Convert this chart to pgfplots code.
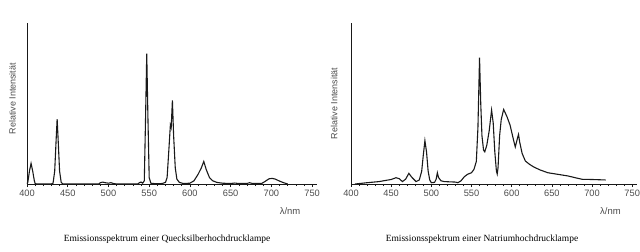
\documentclass[border=0pt]{standalone}
\usepackage{fontspec}
\setmainfont{Liberation Serif}
\setsansfont{Liberation Sans}
\usepackage{pgfplots}
\pgfplotsset{compat=1.18}
\definecolor{ink}{gray}{0.1}
\definecolor{labgray}{gray}{0.3}
\pgfplotsset{
  spec/.style={
    scale only axis, width=290bp, height=161bp,
    xmin=400, xmax=756, ymin=0, ymax=100,
    axis x line=bottom, axis y line=left,
    axis line style={-, ink, line width=0.9pt},
    ytick=\empty,
    xtick={400,450,...,750},
    minor x tick num=4,
    tick align=outside,
    major tick length=3bp, minor tick length=2bp,
    tick style={ink, line width=0.6pt},
    every x tick label/.style={font=\sffamily\fontsize{9.3}{10}\selectfont, text=labgray},
    /pgf/number format/assume math mode=true,
    /pgf/number format/set thousands separator={},
    clip=false,
  }
}
\begin{document}
\begin{tikzpicture}
\useasboundingbox (0,0) rectangle (640bp,252bp);
% Left: Hg
\begin{axis}[spec, at={(27bp,68bp)}, anchor=south west]
\addplot[ink, line width=1.1pt] coordinates {
(400,0.3)(401,1)(403,8)(405,12.8)(407,8)(409,2)(410,0.3)(412,0)(430,0)(432,0.5)(434,8)(436,30)(437,40.3)(438,30)(440,8)(442,1)(444,0)
(488,0)(490,0.8)(493,1.2)(496,0.8)(500,0.5)(503,0.8)(506,0.3)(510,0)(536,0)(538,0.8)(540,1.2)(542,0.5)(544,2)(545.5,40)(547,81)(548.5,40)(550,4)(552,0.5)(555,0.3)(560,0.2)(566,0.3)(570,1)(572,4)(574,20)(576,36.6)(577,35)(578.5,52)(580,30)(582,10)(584,3)(587,1)(592,0.3)
(600,0.5)(605,2)(610,6)(614,10)(617,14)(620,9)(624,4)(628,2)(633,1)(640,0.5)(650,0.3)(655,0.6)(660,0.3)(670,0.3)(673,0.8)(677,0.3)(688,0.3)(692,1.5)(697,3.2)(701,3.5)(705,3)(710,1.8)(715,0.8)(720,0)
};
\node[font=\sffamily\fontsize{9}{10}\selectfont, text=labgray, rotate=90] at (axis description cs:-0.05,0.53) {Relative Intensität};
\node[font=\sffamily\fontsize{9.5}{10}\selectfont, text=labgray] at (axis description cs:0.907,-0.168) {λ/nm};
\node[font=\fontsize{9.5}{11}\selectfont, text=black] at (axis description cs:0.483,-0.342) {Emissionsspektrum einer Quecksilberhochdrucklampe};
\end{axis}
% Right: Na
\begin{axis}[spec, width=286bp, at={(351bp,68bp)}, anchor=south west]
\addplot[ink, line width=1.1pt] coordinates {
(405,0)(420,0.8)(435,1.5)(444,2.3)(450,2.8)(456,3.9)(460,3.3)(464,1.5)(468,3)(472,6.6)(476,4)(481,1.5)(485,2.5)(488,8)(490,18)(492,26.9)(494,20)(496,8)(498,2.5)(500,0.8)(504,1)(506,3)(507.5,7)(509,4)(512,2)(516,1.5)(525,1.3)(530,1.2)(533,0.8)(537,2)(541,4.5)(545,6)(550,7)(553,9)(556,14)(558,35)(560,78.5)(561.5,50)(563,30)(565,21)(566.5,20)(569,24)(572,33)(575,45.9)(577,38)(579,20)(581,8)(582,6.2)(583,10)(585,30)(587,40)(590,46.3)(594,42)(598,36.6)(602,28)(604.5,23)(607,28)(608.5,30.8)(610,26)(613,19)(617,14.3)(622,12.3)(627,10.7)(635,8.8)(645,7)(660,5.8)(670,5)(680,3.8)(688,2.9)(700,2.8)(717,2.5)
};
\node[font=\sffamily\fontsize{9}{10}\selectfont, text=labgray, rotate=90] at (axis description cs:-0.059,0.50) {Relative Intensität};
\node[font=\sffamily\fontsize{9.5}{10}\selectfont, text=labgray] at (axis description cs:0.907,-0.168) {λ/nm};
\node[font=\fontsize{9.5}{11}\selectfont, text=black] at (axis description cs:0.458,-0.342) {Emissionsspektrum einer Natriumhochdrucklampe};
\end{axis}
\end{tikzpicture}
\end{document}
